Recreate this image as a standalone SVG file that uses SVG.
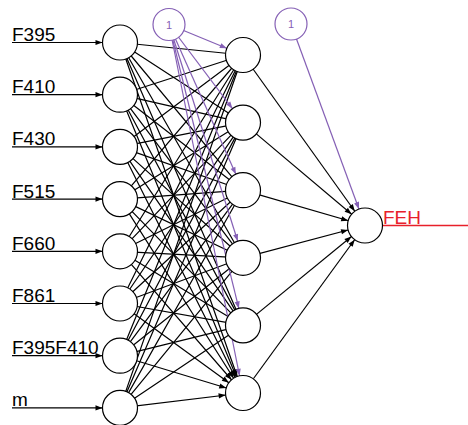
<svg xmlns="http://www.w3.org/2000/svg" width="468" height="425" viewBox="0 0 468 425">
  <style>
    .w { stroke: #000; stroke-width: 1.2; fill: none; }
    .b { stroke: #8560b5; stroke-width: 1.2; fill: none; }
    .r { stroke: #e8202a; stroke-width: 1.3; fill: none; }
    .node { fill: #fff; stroke: #000; stroke-width: 1.2; }
    .bias { fill: #fff; stroke: #8560b5; stroke-width: 1.2; }
    .lbl { font-family: "Liberation Sans", Arial, sans-serif; font-size: 19px; fill: #000; }
    .out { font-family: "Liberation Sans", Arial, sans-serif; font-size: 19px; fill: #e8202a; }
    .one { font-family: "Liberation Sans", Arial, sans-serif; font-size: 11px; fill: #8560b5; text-anchor: middle; }
  </style>
  <defs>
    <!-- arrowheads stop at the rim of a 17.5px-radius node -->
    <marker id="ah" markerUnits="userSpaceOnUse" markerWidth="1" markerHeight="1" refX="0" refY="0" orient="auto" overflow="visible">
      <path d="M-24.5,-2.6 L-17.5,0 L-24.5,2.6 Z" fill="#000"/>
    </marker>
    <marker id="ahb" markerUnits="userSpaceOnUse" markerWidth="1" markerHeight="1" refX="0" refY="0" orient="auto" overflow="visible">
      <path d="M-24.5,-2.6 L-17.5,0 L-24.5,2.6 Z" fill="#8560b5"/>
    </marker>
  </defs>

  <g id="connectors">
    <!-- input labels' lead lines -->
    <g class="w" marker-end="url(#ah)">
      <line x1="12" y1="42.5" x2="120" y2="42.5"/>
      <line x1="12" y1="94.7" x2="120" y2="94.7"/>
      <line x1="12" y1="146.9" x2="120" y2="146.9"/>
      <line x1="12" y1="199.1" x2="120" y2="199.1"/>
      <line x1="12" y1="251.3" x2="120" y2="251.3"/>
      <line x1="12" y1="303.5" x2="120" y2="303.5"/>
      <line x1="12" y1="355.7" x2="120" y2="355.7"/>
      <line x1="12" y1="407.9" x2="120" y2="407.9"/>
    </g>
    <!-- input layer to hidden layer -->
    <g class="w" marker-end="url(#ah)">
      <path d="M120,42.5 L243,55 M120,42.5 L243,122.6 M120,42.5 L243,190.2 M120,42.5 L243,257.8 M120,42.5 L243,325.4 M120,42.5 L243,393"/>
      <path d="M120,94.7 L243,55 M120,94.7 L243,122.6 M120,94.7 L243,190.2 M120,94.7 L243,257.8 M120,94.7 L243,325.4 M120,94.7 L243,393"/>
      <path d="M120,146.9 L243,55 M120,146.9 L243,122.6 M120,146.9 L243,190.2 M120,146.9 L243,257.8 M120,146.9 L243,325.4 M120,146.9 L243,393"/>
      <path d="M120,199.1 L243,55 M120,199.1 L243,122.6 M120,199.1 L243,190.2 M120,199.1 L243,257.8 M120,199.1 L243,325.4 M120,199.1 L243,393"/>
      <path d="M120,251.3 L243,55 M120,251.3 L243,122.6 M120,251.3 L243,190.2 M120,251.3 L243,257.8 M120,251.3 L243,325.4 M120,251.3 L243,393"/>
      <path d="M120,303.5 L243,55 M120,303.5 L243,122.6 M120,303.5 L243,190.2 M120,303.5 L243,257.8 M120,303.5 L243,325.4 M120,303.5 L243,393"/>
      <path d="M120,355.7 L243,55 M120,355.7 L243,122.6 M120,355.7 L243,190.2 M120,355.7 L243,257.8 M120,355.7 L243,325.4 M120,355.7 L243,393"/>
      <path d="M120,407.9 L243,55 M120,407.9 L243,122.6 M120,407.9 L243,190.2 M120,407.9 L243,257.8 M120,407.9 L243,325.4 M120,407.9 L243,393"/>
    </g>
    <!-- hidden bias to hidden layer -->
    <g class="b" marker-end="url(#ahb)">
      <line x1="169" y1="24.5" x2="243" y2="55"/>
      <line x1="169" y1="24.5" x2="243" y2="122.6"/>
      <line x1="169" y1="24.5" x2="243" y2="190.2"/>
      <line x1="169" y1="24.5" x2="243" y2="257.8"/>
      <line x1="169" y1="24.5" x2="243" y2="325.4"/>
      <line x1="169" y1="24.5" x2="243" y2="393"/>
    </g>
    <!-- hidden layer to output -->
    <g class="w" marker-end="url(#ah)">
      <line x1="243" y1="55" x2="365" y2="225.5"/>
      <line x1="243" y1="122.6" x2="365" y2="225.5"/>
      <line x1="243" y1="190.2" x2="365" y2="225.5"/>
      <line x1="243" y1="257.8" x2="365" y2="225.5"/>
      <line x1="243" y1="325.4" x2="365" y2="225.5"/>
      <line x1="243" y1="393" x2="365" y2="225.5"/>
    </g>
    <!-- output bias -->
    <line class="b" x1="291" y1="24" x2="365" y2="225.5" marker-end="url(#ahb)"/>
    <!-- output lead line -->
    <line class="r" x1="382.5" y1="225.5" x2="468" y2="225.5"/>
  </g>

  <g id="labels">
    <text class="lbl" x="12" y="41">F395</text>
    <text class="lbl" x="12" y="93.2">F410</text>
    <text class="lbl" x="12" y="145.4">F430</text>
    <text class="lbl" x="12" y="197.6">F515</text>
    <text class="lbl" x="12" y="249.8">F660</text>
    <text class="lbl" x="12" y="302">F861</text>
    <text class="lbl" x="12" y="354.2">F395F410</text>
    <text class="lbl" x="12" y="406.4">m</text>
    <text class="out" x="383" y="223.5">FEH</text>
  </g>

  <g id="input-nodes">
    <circle id="in-F395" class="node" cx="120" cy="42.5" r="17.5"/>
    <circle id="in-F410" class="node" cx="120" cy="94.7" r="17.5"/>
    <circle id="in-F430" class="node" cx="120" cy="146.9" r="17.5"/>
    <circle id="in-F515" class="node" cx="120" cy="199.1" r="17.5"/>
    <circle id="in-F660" class="node" cx="120" cy="251.3" r="17.5"/>
    <circle id="in-F861" class="node" cx="120" cy="303.5" r="17.5"/>
    <circle id="in-F395F410" class="node" cx="120" cy="355.7" r="17.5"/>
    <circle id="in-m" class="node" cx="120" cy="407.9" r="17.5"/>
  </g>

  <g id="hidden-nodes">
    <circle id="h1" class="node" cx="243" cy="55" r="17.5"/>
    <circle id="h2" class="node" cx="243" cy="122.6" r="17.5"/>
    <circle id="h3" class="node" cx="243" cy="190.2" r="17.5"/>
    <circle id="h4" class="node" cx="243" cy="257.8" r="17.5"/>
    <circle id="h5" class="node" cx="243" cy="325.4" r="17.5"/>
    <circle id="h6" class="node" cx="243" cy="393" r="17.5"/>
  </g>

  <g id="output-node">
    <circle id="out-FEH" class="node" cx="365" cy="225.5" r="17.5"/>
  </g>

  <g id="bias-hidden">
    <circle class="bias" cx="169" cy="24.5" r="16"/>
    <text class="one" x="169" y="28.5">1</text>
  </g>
  <g id="bias-output">
    <circle class="bias" cx="291" cy="24" r="16"/>
    <text class="one" x="291" y="28">1</text>
  </g>
</svg>
